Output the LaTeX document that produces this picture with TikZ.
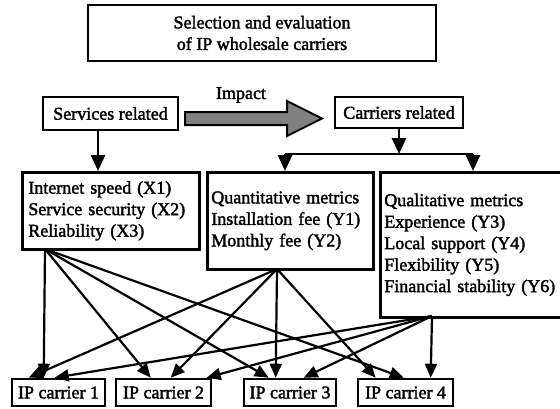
\documentclass[tikz,border=0pt]{standalone}
\usepackage{fontspec}
\setmainfont{Liberation Serif}
\newfontfamily\heavy[FakeBold=2]{Liberation Serif}
\usetikzlibrary{arrows.meta,calc}
\begin{document}
\begin{tikzpicture}[x=1pt,y=-1pt,
  txt/.style={font=\heavy\fontsize{18}{21.5}\selectfont},
  bx/.style={draw, line width=2.6pt, inner ysep=0pt, inner xsep=2pt, txt},
  multi/.style={bx, align=left, anchor=north west},
  conn/.style={line width=2.6pt, -{Triangle[length=16pt,width=14pt]}},
  fan/.style={line width=2.2pt, -{Triangle[length=14pt,width=12pt]}},
  lbl/.style={txt, inner sep=0pt}]
\clip (0,0) rectangle (560,408);
\useasboundingbox (0,0) rectangle (560,408);

% title
\node[bx, minimum width=348pt, minimum height=56pt, align=center] (title) at (262,33)
  {Selection and evaluation\\of IP wholesale carriers};

% top row
\node[bx, minimum width=135pt, minimum height=33pt] (services) at (110.5,113.5) {Services related};
\node[bx, minimum width=128pt, minimum height=31pt] (carriers) at (399,112.5) {Carriers related};
\draw[line width=2pt, fill=black!50]
  (185,112) -- (287,112) -- (287,101) -- (322,118.5) -- (287,136) -- (287,125) -- (185,125) -- cycle;
\node[lbl] (impact) at (241,95) {Impact};

% metric boxes
\node[multi, text width=165pt, inner xsep=6pt, minimum height=77pt] (xbox) at (21,171)
  {Internet speed (X1)\\Service security (X2)\\Reliability (X3)};
\node[multi, text width=158pt, inner xsep=4pt, minimum height=97pt] (quant) at (206,171)
  {Quantitative metrics\\Installation fee (Y1)\\Monthly fee (Y2)};
\node[multi, text width=176pt, inner xsep=4pt, minimum height=145pt] (qual) at (379,171)
  {Qualitative metrics\\Experience (Y3)\\Local support (Y4)\\Flexibility (Y5)\\Financial stability (Y6)};

% carrier boxes
\node[bx, minimum width=93pt, minimum height=27pt] (ip1) at (58.5,392.5) {IP carrier 1};
\node[bx, minimum width=95pt, minimum height=27pt] (ip2) at (163.5,392.5) {IP carrier 2};
\node[bx, minimum width=92pt, minimum height=27pt] (ip3) at (290,392.5) {IP carrier 3};
\node[bx, minimum width=95pt, minimum height=27pt] (ip4) at (405.5,392.5) {IP carrier 4};

% tree connectors
\coordinate (s1) at (98,130);
\draw[conn] (s1) -- (s1 |- xbox.north);
\coordinate (j) at (399,154);
\coordinate (jl) at (285,154);
\coordinate (jr) at (473,154);
\draw[conn] (carriers.south) -- (j);
\draw[line width=2.6pt] (jl) -- (jr);
\draw[conn] (jl) -- (jl |- quant.north);
\draw[conn] (jr) -- (jr |- qual.north);

% fan sources
\coordinate (sx) at (45,249);
\coordinate (sq) at (277,269);
\coordinate (sl) at (432,316);

% from X box
\draw[fan] (sx) -- ($(ip1.north west)+(33,0)$);
\draw[fan] (sx) -- ($(ip2.north west)+(36,0)$);
\draw[fan] (sx) -- ($(ip3.north west)+(26,0)$);
\draw[fan] (sx) -- ($(ip4.north west)+(47,0)$);
% from quantitative box
\draw[fan] (sq) -- ($(ip1.north west)+(18,0)$);
\draw[fan] (sq) -- ($(ip2.north west)+(56,0)$);
\draw[fan] (sq) -- ($(ip3.north west)+(33,0)$);
\draw[fan] (sq) -- ($(ip4.north west)+(19,0)$);
% from qualitative box
\draw[fan] (sl) -- ($(ip1.north west)+(44,0)$);
\draw[fan] (sl) -- ($(ip2.north west)+(92,0)$);
\draw[fan] (sl) -- ($(ip3.north west)+(61,0)$);
\draw[fan] (sl) -- ($(ip4.north west)+(74,0)$);
\end{tikzpicture}
\end{document}
